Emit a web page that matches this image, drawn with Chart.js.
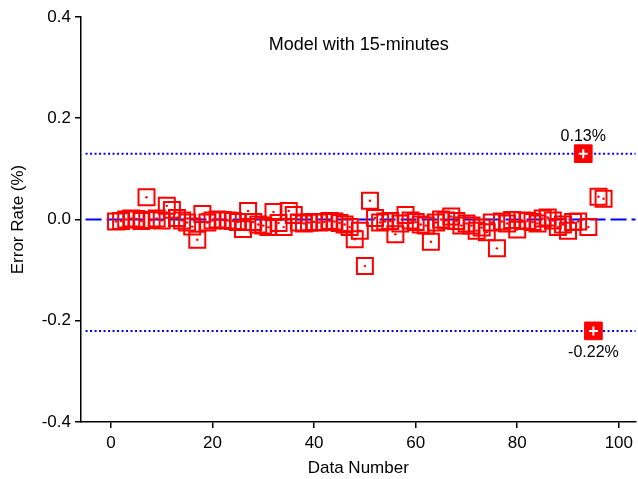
<!DOCTYPE html>
<html>
<head>
<meta charset="utf-8">
<script src="https://cdn.jsdelivr.net/npm/chart.js@4.4.1/dist/chart.umd.min.js"></script>
<style>
  html, body { margin: 0; padding: 0; background: #fff; }
  #wrap { width: 638px; height: 479px; }
</style>
</head>
<body>
<div id="wrap"><canvas id="errChart"></canvas></div>
<script>
// data number (x) and error rate (%)
const dataNumber = [
  1, 2, 3, 4, 5, 6, 7, 8, 9, 10, 11, 12, 13, 14, 15, 16, 17, 18, 19, 20,
  21, 22, 23, 24, 25, 26, 27, 28, 29, 30, 31, 32, 33, 34, 35, 36, 37, 38, 39, 40,
  41, 42, 43, 44, 45, 46, 47, 48, 49, 50, 51, 52, 53, 54, 55, 56, 57, 58, 59, 60,
  61, 62, 63, 64, 65, 66, 67, 68, 69, 70, 71, 72, 73, 74, 75, 76, 77, 78, 79, 80,
  81, 82, 83, 84, 85, 86, 87, 88, 89, 90, 91, 92, 94, 96, 97
];
const errorRate = [
  -0.004, -0.003, 0.000, 0.002, 0.001, -0.003, 0.044, -0.001, 0.002, -0.002,
  0.027, 0.019, 0.003, -0.002, -0.006, -0.014, -0.040, 0.011, -0.006, -0.002,
  0.000, -0.001, -0.002, -0.003, -0.005, -0.019, 0.017, -0.005, -0.010, -0.012,
  -0.015, 0.015, -0.007, -0.015, 0.017, 0.009, -0.006, -0.008, -0.006, -0.005,
  -0.006, -0.005, -0.003, -0.004, -0.007, -0.010, -0.015, -0.039, -0.022, -0.092,
  0.037, 0.003, -0.006, -0.004, -0.003, -0.029, -0.008, 0.009, -0.002, -0.005,
  -0.010, -0.012, -0.044, -0.006, 0.000, -0.002, 0.006, -0.003, -0.012, -0.008,
  -0.012, -0.022, -0.016, -0.025, -0.006, -0.057, -0.004, -0.008, -0.001, -0.020,
  -0.002, -0.003, -0.005, -0.008, 0.002, 0.004, -0.002, -0.015, -0.010, -0.022,
  -0.005, -0.004, -0.015, 0.045, 0.041
];

// extreme values and their limit lines
const extremeX = [93, 95];
const extremeY = [0.13, -0.22];
const extremeLabels = ['0.13%', '-0.22%'];
const lineStartX = -5;
const lineEndX = 104;

const xTicks = [0, 20, 40, 60, 80, 100];
const chartTitle = 'Model with 15-minutes';

const points = dataNumber.map((x, i) => ({ x: x, y: errorRate[i] }));
const extremes = extremeX.map((x, i) => ({ x: x, y: extremeY[i] }));

function hLine(y) {
    return [{ x: lineStartX, y: y }, { x: lineEndX, y: y }];
}

/** draws the title and the two percentage labels inside the plot */
const textPlugin = {
    id: 'texts',
    afterDatasetsDraw(chart) {
        const ctx = chart.ctx;
        const xs = chart.scales.x, ys = chart.scales.y;
        ctx.save();
        ctx.fillStyle = '#000';
        ctx.font = '18px "Liberation Sans", Arial, sans-serif';
        ctx.textAlign = 'center';
        ctx.textBaseline = 'middle';
        ctx.fillText(chartTitle, xs.getPixelForValue(48.8), ys.getPixelForValue(0.345));
        ctx.font = '16px "Liberation Sans", Arial, sans-serif';
        ctx.fillText(extremeLabels[0], xs.getPixelForValue(extremeX[0]), ys.getPixelForValue(extremeY[0]) - 17);
        ctx.fillText(extremeLabels[1], xs.getPixelForValue(extremeX[1]), ys.getPixelForValue(extremeY[1]) + 22);
        ctx.restore();
    }
};

const axisFont = { family: '"Liberation Sans", Arial, sans-serif', size: 17 };

new Chart(document.getElementById('errChart'), {
    type: 'scatter',
    data: {
        datasets: [
            {
                type: 'line', data: hLine(0), borderColor: '#0000ff', borderWidth: 2,
                borderDash: [16, 5], pointRadius: 0, order: 5
            },
            {
                type: 'line', data: hLine(extremeY[0]), borderColor: '#0000ff', borderWidth: 2,
                borderDash: [2, 2.5], pointRadius: 0, order: 5
            },
            {
                type: 'line', data: hLine(extremeY[1]), borderColor: '#0000ff', borderWidth: 2,
                borderDash: [2, 2.5], pointRadius: 0, order: 5
            },
            {
                data: points, pointStyle: 'rect', pointRadius: 11.3,
                borderColor: '#ff0000', backgroundColor: 'rgba(0,0,0,0)', borderWidth: 2, order: 3
            },
            {
                data: points, pointStyle: 'circle', pointRadius: 1.2,
                borderColor: '#ff0000', backgroundColor: '#ff0000', borderWidth: 0, order: 2
            },
            {
                data: extremes, pointStyle: 'rect', pointRadius: 12.5,
                borderColor: '#ff0000', backgroundColor: '#ff0000', borderWidth: 1, order: 1
            },
            {
                data: extremes, pointStyle: 'cross', pointRadius: 4.5,
                borderColor: '#ffffff', borderWidth: 2, order: 0
            }
        ]
    },
    options: {
        responsive: true,
        maintainAspectRatio: false,
        animation: false,
        layout: { autoPadding: false, padding: { top: 17, right: 0, left: 0, bottom: 0 } },
        plugins: { legend: { display: false }, tooltip: { enabled: false } },
        scales: {
            x: {
                type: 'linear', min: -5.9, max: 103.3,
                afterBuildTicks: (scale) => { scale.ticks = xTicks.map(v => ({ value: v })); },
                afterFit: (scale) => { scale.height = 57; },
                grid: { drawOnChartArea: false, drawTicks: true, tickLength: 6, color: '#000', lineWidth: 1.5 },
                border: { color: '#000', width: 1.5 },
                ticks: { color: '#000', font: axisFont, padding: 5, maxRotation: 0 },
                title: { display: true, text: 'Data Number', color: '#000', font: axisFont, padding: { top: 0, bottom: 0 } }
            },
            y: {
                min: -0.4, max: 0.4,
                afterFit: (scale) => { scale.width = 81; },
                grid: { drawOnChartArea: false, drawTicks: true, tickLength: 6, color: '#000', lineWidth: 1.5 },
                border: { color: '#000', width: 1.5 },
                ticks: { stepSize: 0.2, color: '#000', font: axisFont, padding: 4, callback: v => v.toFixed(1) },
                title: { display: true, text: 'Error Rate (%)', color: '#000', font: axisFont, padding: { top: 8, bottom: 2 } }
            }
        }
    },
    plugins: [textPlugin]
});
</script>
</body>
</html>
